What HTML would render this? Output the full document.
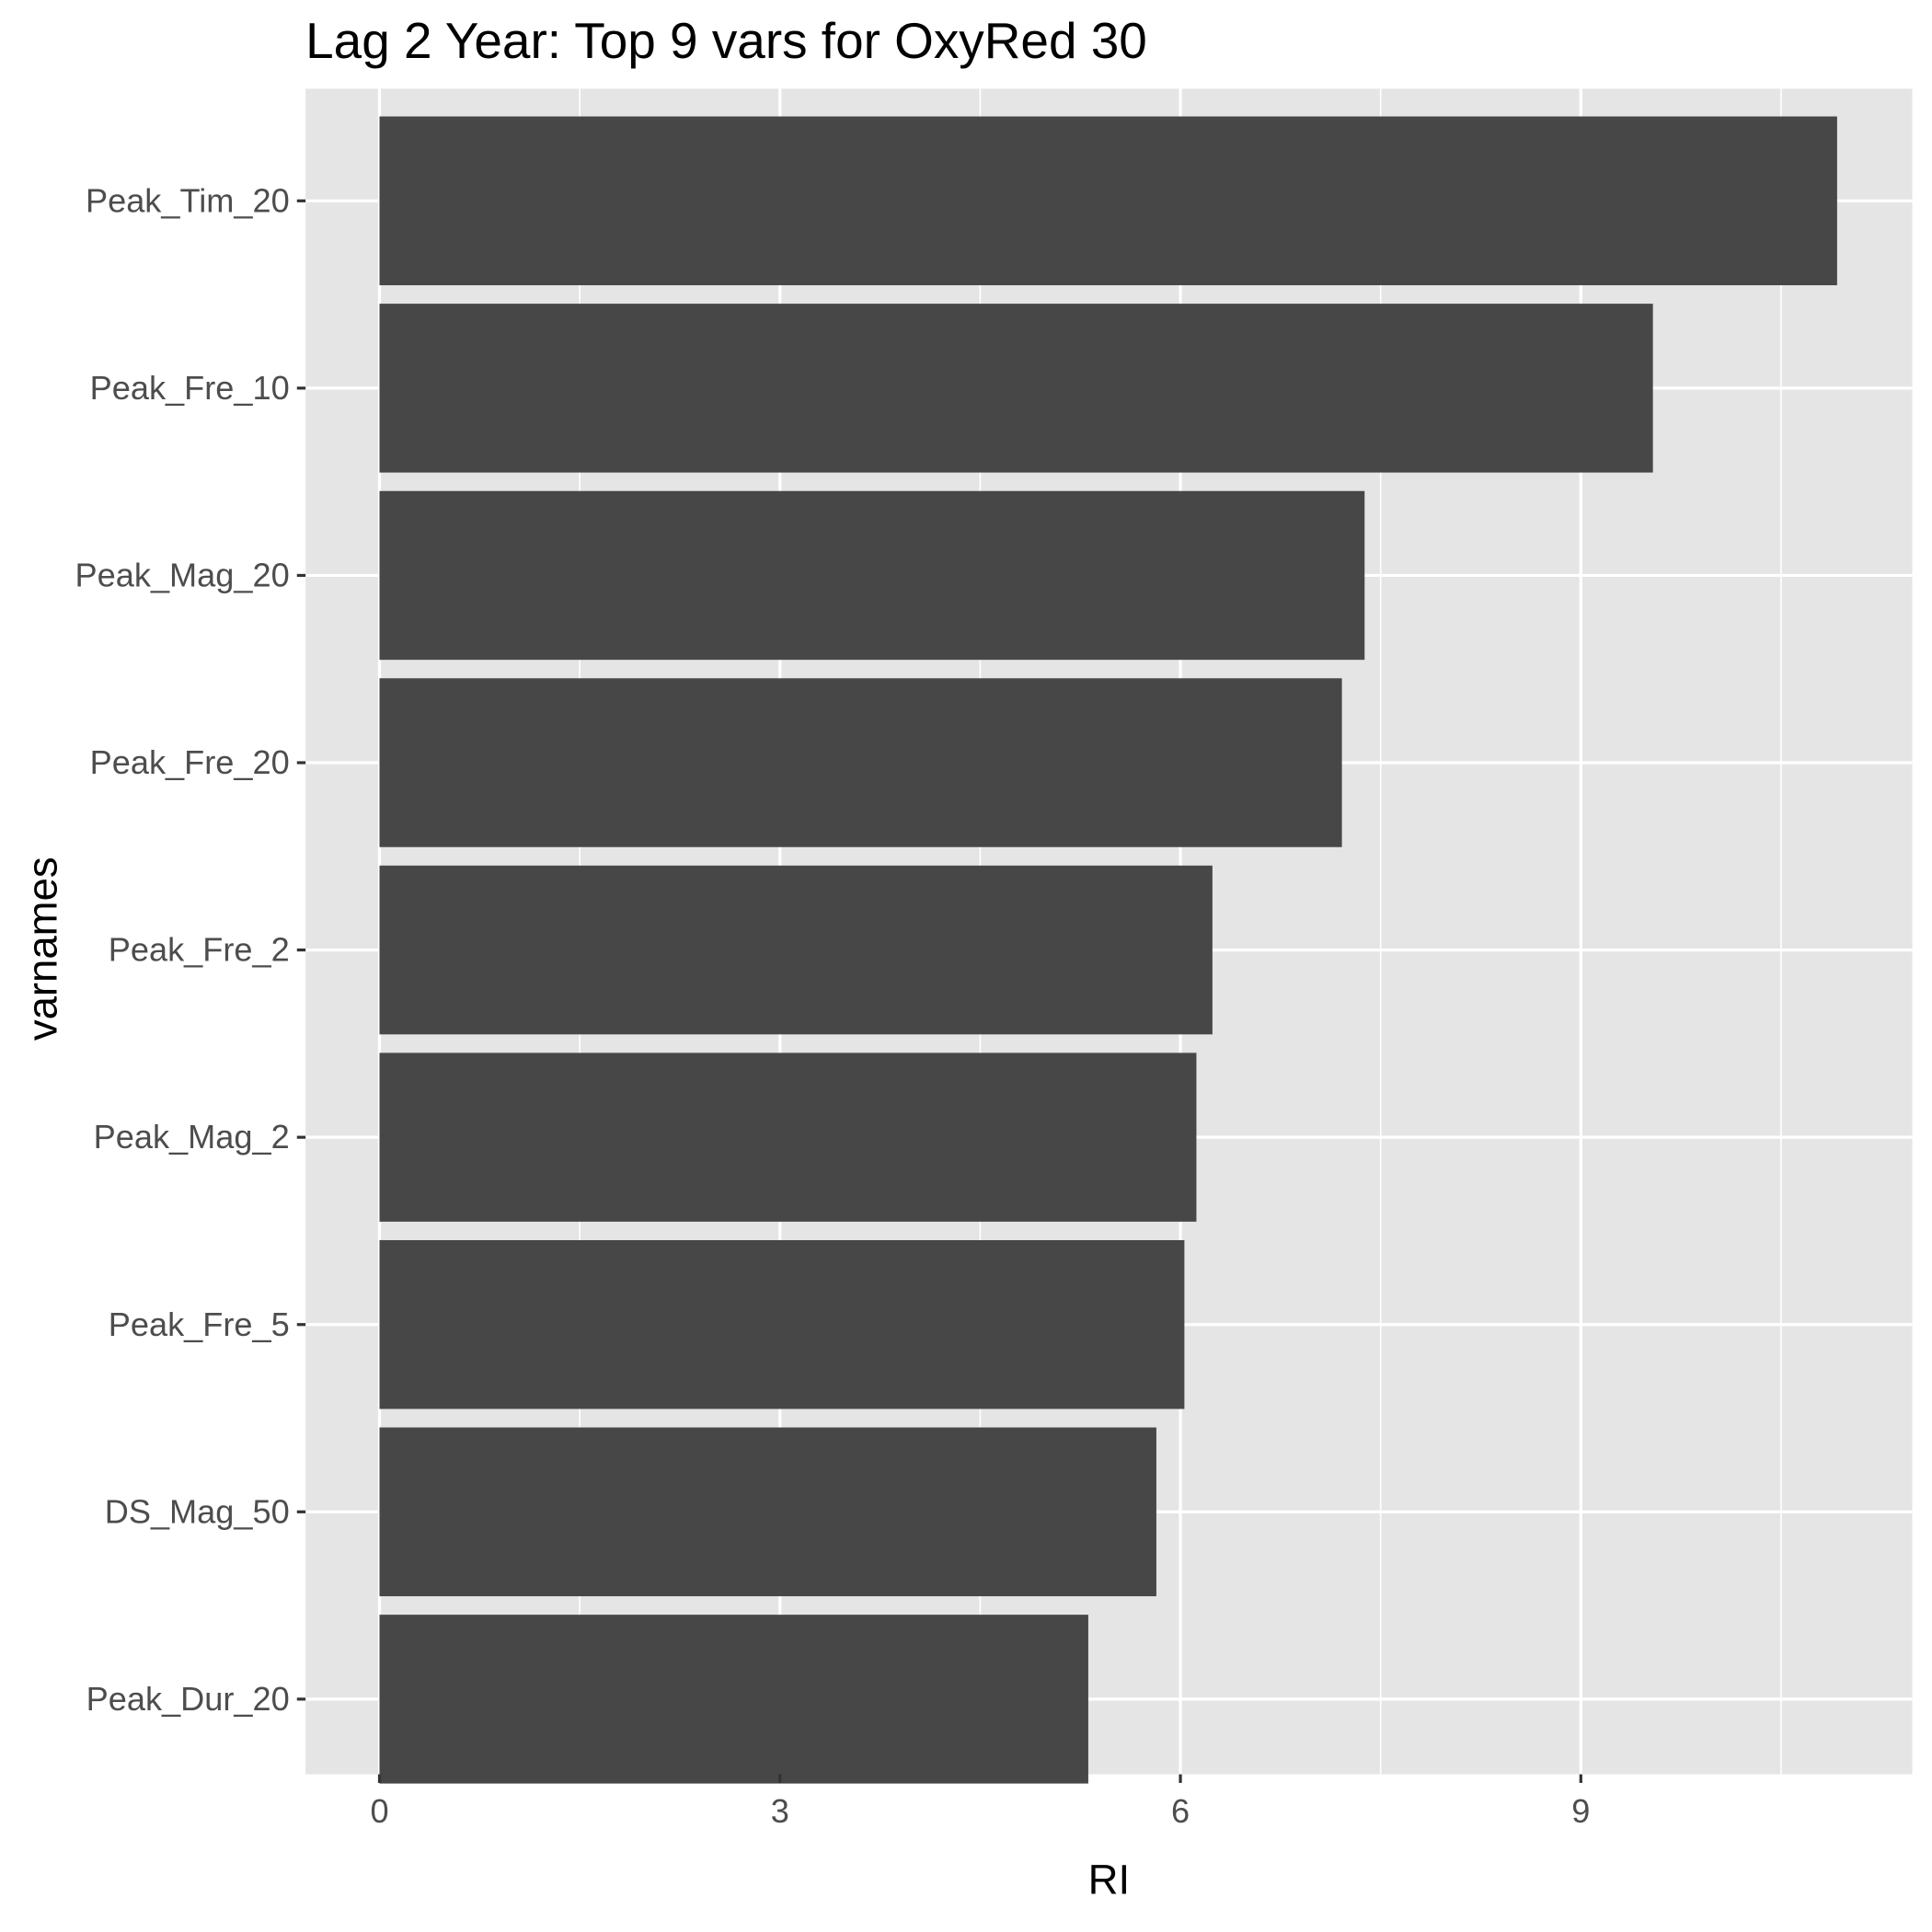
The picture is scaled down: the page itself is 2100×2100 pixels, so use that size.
<!DOCTYPE html>
<html><head><meta charset="utf-8"><style>
html,body{margin:0;padding:0;background:#fff}
svg{display:block}
text{font-family:"Liberation Sans",Arial,sans-serif}
</style></head><body>
<svg id="chart" width="2100" height="2100" viewBox="0 0 1568 1568">
<rect x="0" y="0" width="1568" height="1568" fill="#fff"/>
<rect x="248" y="72" width="1304" height="1368" fill="#E5E5E5"/>
<g id="grid"></g>
<g id="bars"></g>
<g id="yaxis"></g>
<g id="xaxis"></g>
<text x="248" y="47" font-size="41" fill="#000">Lag 2 Year: Top 9 vars for OxyRed 30</text>
<text x="900" y="1537" font-size="34" text-anchor="middle" fill="#000">RI</text>
<text transform="translate(46,770) rotate(-90)" font-size="34" text-anchor="middle" fill="#000">varnames</text>
</svg>
<script>
const categories = ["Peak_Tim_20","Peak_Fre_10","Peak_Mag_20","Peak_Fre_20","Peak_Fre_2","Peak_Mag_2","Peak_Fre_5","DS_Mag_50","Peak_Dur_20"];
const values = [10.92,9.54,7.38,7.21,6.24,6.12,6.03,5.82,5.31];
const xTicks = [0,3,6,9];
const xMinor = [1.5,4.5,7.5,10.5];

const NS="http://www.w3.org/2000/svg";
const x0=308, unit=108.333;
function xs(v){return x0+v*unit;}
function ys(i){return 163+i*152;}
const bw=137;
function mk(tag,attrs,parent){const e=document.createElementNS(NS,tag);for(const k in attrs)e.setAttribute(k,attrs[k]);parent.appendChild(e);return e;}
const grid=document.getElementById('grid'),bars=document.getElementById('bars'),ya=document.getElementById('yaxis'),xa=document.getElementById('xaxis');
xMinor.forEach(v=>{
  const l=mk('line',{x1:xs(v),x2:xs(v),y1:72,y2:1440,stroke:'#fff','stroke-width':1.2},grid);
  
  
});
xTicks.forEach(v=>{
  const l=mk('line',{x1:xs(v),x2:xs(v),y1:72,y2:1440,stroke:'#fff','stroke-width':2.4},grid);
  
  
  const t=mk('line',{x1:xs(v),x2:xs(v),y1:1440,y2:1447,stroke:'#333','stroke-width':2.4},xa);
  
  
  const tx=mk('text',{x:xs(v),y:1479,'font-size':27,'text-anchor':'middle',fill:'#4D4D4D'},xa);
  tx.textContent=v;
  
  
});
categories.forEach((c,i)=>{
  const y=ys(i);
  const g=mk('line',{x1:248,x2:1552,y1:y,y2:y,stroke:'#fff','stroke-width':2.4},grid);
  
  
  const r=mk('rect',{x:xs(0),y:y-bw/2,width:xs(values[i])-xs(0),height:bw,fill:'#474747'},bars);
  
  
  const t=mk('line',{x1:241,x2:248,y1:y,y2:y,stroke:'#333','stroke-width':2.4},ya);
  
  
  const tx=mk('text',{x:235,y:y+9,'font-size':27,'text-anchor':'end',fill:'#4D4D4D'},ya);
  tx.textContent=c;
  
  
});
</script>
</body></html>
